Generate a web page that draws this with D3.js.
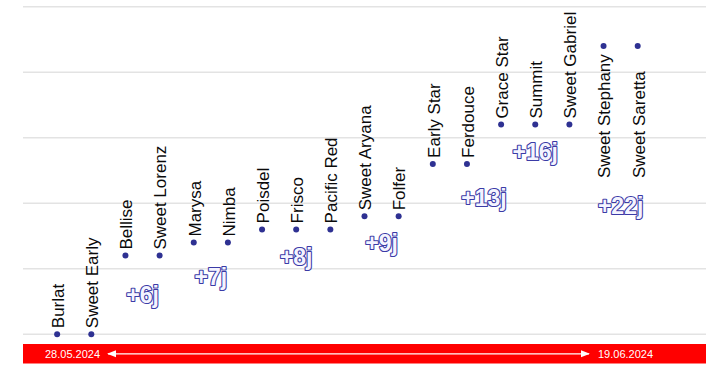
<!DOCTYPE html>
<html><head><meta charset="utf-8">
<script src="https://cdn.jsdelivr.net/npm/d3@7"></script>
<style>html,body{margin:0;padding:0;background:#fff;}svg{display:block;font-family:"Liberation Sans",Arial,sans-serif;}</style>
</head><body><svg id="c" width="719" height="368"></svg>
<script>
const varieties = ["Burlat","Sweet Early","Bellise","Sweet Lorenz","Marysa","Nimba","Poisdel","Frisco","Pacific Red","Sweet Aryana","Folfer","Early Star","Ferdouce","Grace Star","Summit","Sweet Gabriel","Sweet Stephany","Sweet Saretta"];
const daysAfter = [0,0,6,6,7,7,8,8,8,9,9,13,13,16,16,16,22,22];
const gridTicks = [0,5,10,15,20,25];
const deltaLabels = ["+6j","+7j","+8j","+9j","+13j","+16j","+22j"];
const deltaIndex = [2.5,4.5,7,9.5,12.5,14,16.5];
const deltaDays = [3.0,4.4,5.9,7.0,10.4,13.9,9.8];
const startDate = "28.05.2024";
const endDate = "19.06.2024";

const svg = d3.select("#c");
const x = d3.scaleLinear().domain([-1,19]).range([23,706]);
const y = d3.scaleLinear().domain([0,25]).range([334.2,6.7]);

// gridlines
svg.append("g").selectAll("line").data(gridTicks).join("line")
  .attr("x1",x(-1)).attr("x2",x(19))
  .attr("y1",d=>y(d)).attr("y2",d=>y(d))
  .attr("stroke","#e3e3e3").attr("stroke-width",1.5);

// dots
svg.append("g").selectAll("circle").data(varieties).join("circle")
  .attr("cx",(d,i)=>x(i)).attr("cy",(d,i)=>y(daysAfter[i]))
  .attr("r",3).attr("fill","#2e3192");

// labels
svg.append("g").selectAll("text").data(varieties).join("text")
  .attr("transform",(d,i)=>{
    const yy = daysAfter[i] >= 20 ? y(daysAfter[i]) + 132 : y(daysAfter[i]) - 6;
    return `translate(${x(i)},${yy}) rotate(-90)`;
  })
  .attr("dy","0.4em")
  .attr("text-anchor","start")
  .attr("font-size",17).attr("fill","#0a0a0a")
  .text(d=>d);

// delta annotations
svg.append("g").selectAll("text").data(deltaLabels).join("text")
  .attr("x",(d,i)=>x(deltaIndex[i])).attr("y",(d,i)=>y(deltaDays[i]))
  .attr("dy","0.36em")
  .attr("text-anchor","middle")
  .attr("font-size",23).attr("font-weight","bold")
  .attr("fill","#f4f4ff").attr("stroke","#3b3ba6").attr("stroke-width",2.2)
  .attr("stroke-linejoin","round")
  .attr("paint-order","stroke")
  .text(d=>d);

// timeline bar
const defs = svg.append("defs");
defs.append("marker").attr("id","ah").attr("viewBox","0 0 10 10").attr("refX",9).attr("refY",5)
  .attr("markerWidth",7).attr("markerHeight",7).attr("orient","auto-start-reverse")
  .append("path").attr("d","M0,1 L10,5 L0,9 Z").attr("fill","#fff");
svg.append("rect").attr("x",x(-1)).attr("y",344).attr("width",x(19)-x(-1)).attr("height",19.5).attr("fill","#ff0000");
svg.append("text").attr("x",45).attr("y",353.8).attr("dy","0.35em").attr("font-size",11).attr("fill","#fff").text(startDate);
svg.append("text").attr("x",598).attr("y",353.8).attr("dy","0.35em").attr("font-size",11).attr("fill","#fff").text(endDate);
svg.append("line").attr("x1",108).attr("x2",589).attr("y1",353.8).attr("y2",353.8)
  .attr("stroke","#fff").attr("stroke-width",1.3)
  .attr("marker-start","url(#ah)").attr("marker-end","url(#ah)");
</script></body></html>
